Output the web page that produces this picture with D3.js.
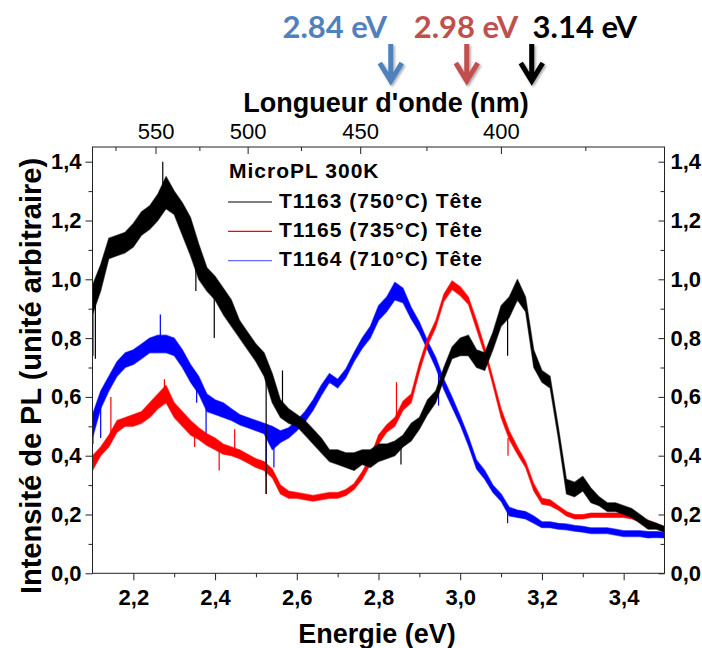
<!DOCTYPE html>
<html>
<head>
<meta charset="utf-8">
<script src="https://cdn.jsdelivr.net/npm/d3@7"></script>
<style>
  body { margin: 0; background: #fff; }
  svg { display: block; }
  .lbl { font-family: "Liberation Sans", Arial, sans-serif; font-weight: bold; fill: #000; }
</style>
</head>
<body>
<svg id="chart" width="702" height="648"></svg>
<script>
// Energy grid (eV) on which the PL envelopes were sampled
const energy = [2.10,2.12,2.14,2.16,2.18,2.20,2.22,2.24,2.26,2.28,2.30,2.32,2.34,2.36,2.38,2.40,2.42,2.44,2.46,2.48,
  2.50,2.52,2.54,2.56,2.58,2.60,2.62,2.64,2.66,2.68,2.70,2.72,2.74,2.76,2.78,2.80,2.82,2.84,2.86,2.88,
  2.90,2.92,2.94,2.96,2.98,3.00,3.02,3.04,3.06,3.08,3.10,3.12,3.14,3.16,3.18,3.20,3.22,3.24,3.26,3.28,
  3.30,3.32,3.34,3.36,3.38,3.40,3.42,3.44,3.46,3.48,3.50];

// T1163 (750°C): lower / upper edge of the noisy trace
const t1163Lo = [0.88,0.96,1.07,1.08,1.09,1.11,1.15,1.17,1.20,1.24,1.22,1.15,1.08,1.00,0.96,0.93,0.88,0.84,0.80,0.76,
  0.72,0.67,0.58,0.53,0.51,0.50,0.47,0.44,0.41,0.38,0.37,0.36,0.35,0.37,0.36,0.38,0.39,0.40,0.43,0.45,
  0.49,0.54,0.58,0.66,0.73,0.74,0.74,0.70,0.69,0.76,0.84,0.87,0.93,0.89,0.70,0.65,0.63,0.46,0.27,0.26,
  0.28,0.24,0.23,0.21,0.21,0.20,0.19,0.17,0.15,0.15,0.14];
const t1163Hi = [0.98,1.05,1.14,1.15,1.16,1.19,1.23,1.25,1.29,1.35,1.30,1.26,1.21,1.12,1.04,1.01,0.97,0.93,0.86,0.82,
  0.78,0.75,0.68,0.59,0.56,0.54,0.52,0.49,0.46,0.42,0.42,0.41,0.41,0.42,0.42,0.44,0.44,0.45,0.47,0.51,
  0.53,0.59,0.62,0.70,0.77,0.80,0.81,0.76,0.75,0.82,0.91,0.94,1.00,0.94,0.76,0.69,0.67,0.50,0.32,0.31,
  0.33,0.29,0.26,0.24,0.24,0.23,0.22,0.20,0.18,0.17,0.16];

// T1165 (735°C)
const t1165Lo = [0.35,0.40,0.43,0.48,0.50,0.50,0.51,0.53,0.56,0.58,0.53,0.50,0.47,0.455,0.435,0.42,0.405,0.40,0.39,0.375,
  0.36,0.35,0.325,0.27,0.255,0.255,0.25,0.245,0.25,0.255,0.255,0.265,0.285,0.32,0.37,0.44,0.48,0.50,0.555,0.58,
  0.685,0.775,0.835,0.925,0.965,0.945,0.915,0.83,0.745,0.64,0.53,0.455,0.405,0.36,0.28,0.235,0.23,0.215,0.195,0.185,
  0.185,0.19,0.19,0.19,0.19,0.19,0.185,0.175,0.165,0.155,0.14];
const t1165Hi = [0.40,0.43,0.47,0.52,0.53,0.54,0.55,0.58,0.61,0.64,0.58,0.55,0.52,0.495,0.475,0.46,0.44,0.43,0.42,0.405,
  0.39,0.38,0.355,0.30,0.28,0.275,0.27,0.265,0.27,0.275,0.275,0.285,0.305,0.345,0.395,0.47,0.505,0.53,0.585,0.61,
  0.715,0.80,0.86,0.95,0.995,0.975,0.94,0.86,0.77,0.665,0.56,0.485,0.43,0.38,0.305,0.255,0.25,0.23,0.21,0.20,
  0.20,0.205,0.205,0.205,0.205,0.205,0.205,0.19,0.18,0.17,0.155];

// T1164 (710°C)
const t1164Lo = [0.46,0.56,0.62,0.67,0.70,0.71,0.73,0.75,0.75,0.75,0.74,0.70,0.65,0.61,0.55,0.54,0.53,0.52,0.505,0.495,
  0.485,0.475,0.42,0.445,0.46,0.485,0.515,0.555,0.605,0.65,0.63,0.665,0.72,0.765,0.80,0.86,0.89,0.93,0.92,0.865,
  0.82,0.76,0.70,0.625,0.565,0.505,0.435,0.355,0.32,0.275,0.245,0.195,0.19,0.185,0.17,0.155,0.155,0.15,0.148,0.143,
  0.14,0.135,0.135,0.135,0.13,0.125,0.125,0.125,0.12,0.122,0.12];
const t1164Hi = [0.54,0.62,0.67,0.72,0.75,0.76,0.78,0.80,0.81,0.81,0.80,0.76,0.71,0.67,0.61,0.59,0.58,0.56,0.54,0.53,
  0.52,0.51,0.50,0.485,0.495,0.52,0.55,0.59,0.64,0.68,0.66,0.695,0.75,0.80,0.84,0.91,0.94,0.99,0.97,0.905,
  0.855,0.79,0.735,0.66,0.60,0.535,0.465,0.385,0.35,0.30,0.27,0.225,0.215,0.21,0.195,0.175,0.175,0.17,0.168,0.163,
  0.16,0.155,0.155,0.155,0.15,0.145,0.145,0.145,0.142,0.142,0.14];

// Isolated spikes: [energy, from, to]
const t1163Spikes = [[2.101,0.90,0.74],[2.107,0.92,0.73],[2.272,1.30,1.40],[2.353,1.05,0.96],[2.398,0.96,0.80],
  [2.525,0.70,0.27],[2.565,0.56,0.69],[2.855,0.43,0.37],[3.116,0.88,0.74]];
const t1165Spikes = [[2.145,0.46,0.60],[2.276,0.60,0.66],[2.350,0.47,0.43],[2.410,0.42,0.35],[2.448,0.42,0.49],
  [2.525,0.36,0.27],[2.844,0.52,0.65],[3.117,0.46,0.40]];
const t1164Spikes = [[2.101,0.50,0.44],[2.120,0.57,0.46],[2.266,0.80,0.88],[2.355,0.65,0.58],[2.378,0.56,0.45],
  [2.525,0.48,0.33],[2.544,0.45,0.36],[2.947,0.70,0.57],[3.116,0.21,0.17]];

const seriesNames = ["T1163 (750°C) Tête", "T1165 (735°C) Tête", "T1164 (710°C) Tête"];

// Axis ticks
const energyTicks = [2.2, 2.4, 2.6, 2.8, 3.0, 3.2, 3.4];
const energyMinor = [2.3, 2.5, 2.7, 2.9, 3.1, 3.3];
const intensityTicks = [0, 0.2, 0.4, 0.6, 0.8, 1.0, 1.2, 1.4];
const intensityMinor = [0.1, 0.3, 0.5, 0.7, 0.9, 1.1, 1.3];
const wavelengthTicks = [550, 500, 450, 400];
const wavelengthMinor = [575, 525, 475, 425, 375];

// Peak annotations (eV)
const peakLabels = ["2.84 eV", "2.98 eV", "3.14 eV"];
const peakEnergy = [2.84, 2.98, 3.14];

// ---- drawing ----
const svg = d3.select("#chart");
const frame = { left: 92.5, right: 664.5, top: 147, bottom: 573.3 };
const x = d3.scaleLinear().domain([2.1, 3.5]).range([frame.left, frame.right]);
const y = d3.scaleLinear().domain([0, 1.45]).range([frame.bottom, frame.top]);
const HC = 1239.84; // eV·nm
const comma = d => d3.format(".1f")(d).replace(".", ",");

const colors = ["#000000", "#ff0000", "#0000ff"];
const bands = [
  { lo: t1163Lo, hi: t1163Hi, spikes: t1163Spikes },
  { lo: t1165Lo, hi: t1165Hi, spikes: t1165Spikes },
  { lo: t1164Lo, hi: t1164Hi, spikes: t1164Spikes }
];

const defs = svg.append("defs");
defs.append("clipPath").attr("id", "plotclip")
  .append("rect").attr("x", frame.left).attr("y", frame.top)
  .attr("width", frame.right - frame.left).attr("height", frame.bottom - frame.top);
const plot = svg.append("g").attr("clip-path", "url(#plotclip)");

const area = d3.area()
  .x((d, i) => x(energy[i]))
  .y0(d => y(d[0]))
  .y1(d => y(d[1]));

// blue first, then red, then black on top
[2, 1, 0].forEach(k => {
  const s = bands[k];
  const pts = energy.map((e, i) => [s.lo[i], s.hi[i]]);
  plot.append("path")
    .attr("d", area(pts))
    .attr("fill", colors[k])
    .attr("stroke", colors[k])
    .attr("stroke-opacity", 0.55)
    .attr("stroke-width", 1.2)
    .attr("stroke-linejoin", "round");
  plot.selectAll(null).data(s.spikes).enter().append("line")
    .attr("x1", d => x(d[0])).attr("x2", d => x(d[0]))
    .attr("y1", d => y(d[1])).attr("y2", d => y(d[2]))
    .attr("stroke", colors[k]).attr("stroke-width", 1.2);
});

// frame
svg.append("rect")
  .attr("x", frame.left).attr("y", frame.top)
  .attr("width", frame.right - frame.left).attr("height", frame.bottom - frame.top)
  .attr("fill", "none").attr("stroke", "#222").attr("stroke-width", 1);

function styleAxis(g, size, weight) {
  g.select(".domain").remove();
  g.selectAll(".tick line").attr("stroke", "#222");
  g.selectAll(".tick text")
    .attr("font-family", "'Liberation Sans', Arial, sans-serif")
    .attr("font-size", size).attr("font-weight", weight).attr("fill", "#000");
}

// bottom energy axis
svg.append("g").attr("transform", `translate(0,${frame.bottom})`)
  .call(d3.axisBottom(x).tickValues(energyTicks).tickFormat(comma).tickSize(7).tickPadding(9))
  .call(g => styleAxis(g, 22, "bold"));
svg.append("g").attr("transform", `translate(0,${frame.bottom})`)
  .call(d3.axisBottom(x).tickValues(energyMinor).tickFormat("").tickSize(4))
  .call(g => styleAxis(g, 22, "bold"));

// left intensity axis
svg.append("g").attr("transform", `translate(${frame.left},0)`)
  .call(d3.axisLeft(y).tickValues(intensityTicks).tickFormat(comma).tickSize(7).tickPadding(4))
  .call(g => styleAxis(g, 22, "bold"));
svg.append("g").attr("transform", `translate(${frame.left},0)`)
  .call(d3.axisLeft(y).tickValues(intensityMinor).tickFormat("").tickSize(4))
  .call(g => styleAxis(g, 22, "bold"));

// right intensity axis (ticks inward)
svg.append("g").attr("transform", `translate(${frame.right},0)`)
  .call(d3.axisRight(y).tickValues(intensityTicks).tickFormat(comma).tickSize(-6).tickPadding(6))
  .call(g => styleAxis(g, 22, "bold"));
svg.append("g").attr("transform", `translate(${frame.right},0)`)
  .call(d3.axisRight(y).tickValues(intensityMinor).tickFormat("").tickSize(-4))
  .call(g => styleAxis(g, 22, "bold"));

// top wavelength axis (ticks inward)
svg.append("g").attr("transform", `translate(0,${frame.top})`)
  .call(d3.axisTop(x).tickValues(wavelengthTicks.map(nm => HC / nm)).tickFormat(e => Math.round(HC / e))
    .tickSize(-7).tickPadding(8))
  .call(g => styleAxis(g, 22, "normal"));
svg.append("g").attr("transform", `translate(0,${frame.top})`)
  .call(d3.axisTop(x).tickValues(wavelengthMinor.filter(nm => HC / nm <= 3.5).map(nm => HC / nm)).tickFormat("").tickSize(-4))
  .call(g => styleAxis(g, 22, "normal"));

// axis titles
svg.append("text").attr("class", "lbl")
  .attr("x", 377).attr("y", 643).attr("text-anchor", "middle")
  .attr("font-size", 27).text("Energie (eV)");
svg.append("text").attr("class", "lbl")
  .attr("transform", "translate(41,376) rotate(-90)").attr("text-anchor", "middle")
  .attr("font-size", 29).text("Intensité de PL (unité arbitraire)");
svg.append("text").attr("class", "lbl")
  .attr("x", 386).attr("y", 112).attr("text-anchor", "middle")
  .attr("font-size", 27).text("Longueur d'onde (nm)");

// legend
const leg = svg.append("g");
leg.append("text").attr("class", "lbl").attr("x", 229).attr("y", 178)
  .attr("font-size", 21).attr("letter-spacing", 1).text("MicroPL 300K");
const legColors = ["#555555", "#ff0000", "#6a6aff"];
seriesNames.forEach((name, i) => {
  const yy = 202 + i * 29.3;
  leg.append("line").attr("x1", 228).attr("x2", 272).attr("y1", yy).attr("y2", yy)
    .attr("stroke", legColors[i]).attr("stroke-width", 1.3);
  leg.append("text").attr("class", "lbl").attr("x", 279).attr("y", yy + 5.5)
    .attr("font-size", 21).attr("letter-spacing", 1).text(name);
});

// peak annotations with arrows
const peakColors = ["#4f81bd", "#c0504d", "#000000"];
const arrowAt = [2.83, 3.016, 3.175];
const labelAt = [2.693, 3.014, 3.305];
const f = defs.append("filter").attr("id", "shadow").attr("x", "-50%").attr("y", "-20%").attr("width", "200%").attr("height", "150%");
f.append("feDropShadow").attr("dx", 1.5).attr("dy", 1.5).attr("stdDeviation", 1.2).attr("flood-color", "#000").attr("flood-opacity", 0.35);

peakLabels.forEach((lab, i) => {
  svg.append("text")
    .attr("x", x(labelAt[i])).attr("y", 38).attr("text-anchor", "middle")
    .attr("font-family", "Lato, 'Open Sans', sans-serif").attr("font-weight", 700)
    .attr("font-size", 31).attr("fill", peakColors[i]).text(lab);
  const ax = x(arrowAt[i]);
  svg.append("path")
    .attr("d", `M${ax},44 L${ax},81 M${ax - 11},63 L${ax},81 L${ax + 11},63`)
    .attr("fill", "none").attr("stroke", peakColors[i]).attr("stroke-width", 5)
    .attr("stroke-linecap", "butt").attr("stroke-linejoin", "miter")
    .attr("filter", "url(#shadow)");
});
</script>
</body>
</html>
